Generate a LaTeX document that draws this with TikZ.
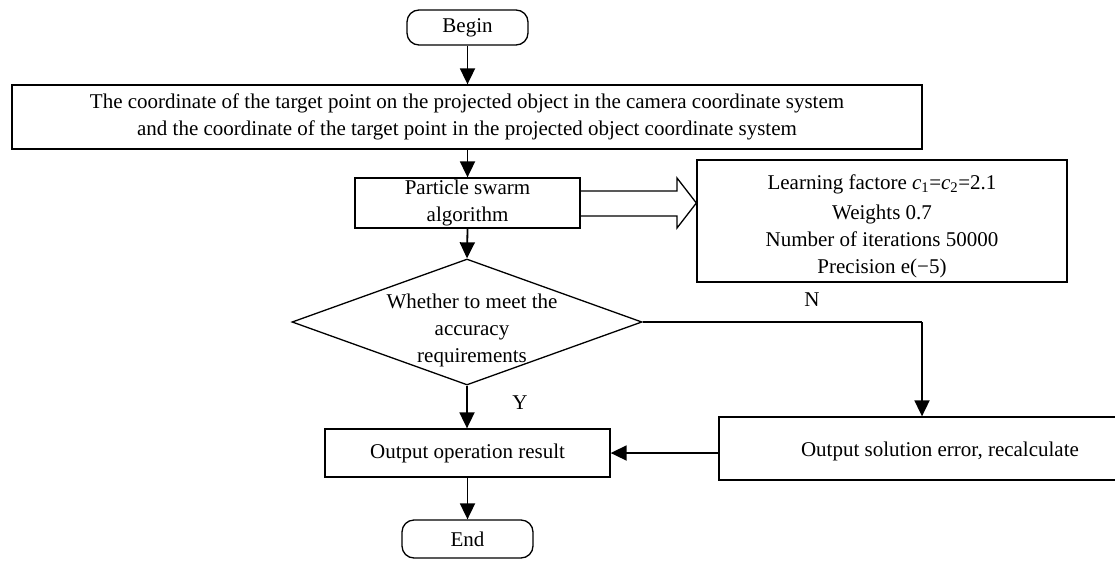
\documentclass[tikz,border=0pt]{standalone}
\usepackage{fontspec}
\setmainfont{Liberation Serif}
\usetikzlibrary{shapes.geometric,arrows.meta}
\begin{document}
\begin{tikzpicture}[x=1pt,y=-1pt,
  every node/.style={font=\fontsize{21}{27}\selectfont},
  box/.style={draw,line width=1.3pt,inner sep=0pt,align=center},
  term/.style={box,rounded corners=12pt},
  arr/.style={line width=1.8pt,-{Triangle[width=15pt,length=16pt]}},
  line/.style={line width=1.3pt}]
\useasboundingbox (0,0) rectangle (1115,565);
\node[term,minimum width=121pt,minimum height=35pt] (begin) at (467.5,27.5) {Begin};
\node[box,minimum width=910pt,minimum height=64pt] (coord) at (467,117) {The coordinate of the target point on the projected object in the camera coordinate system\\and the coordinate of the target point in the projected object coordinate system};
\node[box,minimum width=225pt,minimum height=50pt] (pso) at (467.5,203) {Particle swarm\\algorithm};
\node[box,minimum width=370pt,minimum height=122pt] (param) at (882,221) {};
\node[align=center] (paramtext) at (882,226) {Learning factore \textit{c}\textsubscript{1}=\textit{c}\textsubscript{2}=2.1\\[3pt]Weights 0.7\\Number of iterations 50000\\Precision e(−5)};
\node[diamond,draw,line width=1.3pt,minimum width=350pt,minimum height=126pt,inner sep=0pt] (dec) at (467,322) {};
\node[align=center] (dectext) at (472,330) {Whether to meet the\\accuracy\\requirements};
\node[box,minimum width=285pt,minimum height=48pt] (out) at (467.5,453) {Output operation result};
\node[box,minimum width=406pt,minimum height=63pt] (err) at (922,448.5) {};
\node (errtext) at (940,451) {Output solution error, recalculate};
\node[term,minimum width=131pt,minimum height=38pt] (end) at (467.5,539) {End};
\node (ylab) at (520,403) {Y};
\node (nlab) at (812,300) {N};
\coordinate (corner) at (err.north |- dec.east);
\draw[arr] (begin.south) -- (coord.north -| begin.south);
\draw[arr] (coord.south -| pso.north) -- (pso.north);
\draw[arr] (pso.south) -- (dec.north);
\draw[arr] (dec.south) -- (out.north -| dec.south);
\draw[arr] (out.south -| end.north) -- (end.north);
\draw[line,line join=miter] (pso.east |- 0,191) -- (677,191) -- (677,178) -- (param.west |- 0,203) -- (677,228) -- (677,216) -- (pso.east |- 0,216);
\draw[line] (dec.east) -- (corner);
\draw[arr] (corner) -- (err.north);
\draw[arr] (err.west |- out.east) -- (out.east);
\end{tikzpicture}
\end{document}
